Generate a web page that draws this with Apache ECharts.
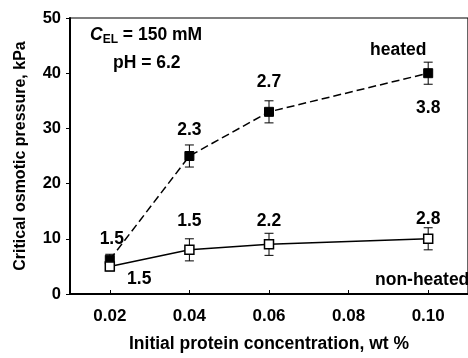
<!DOCTYPE html>
<html>
<head>
<meta charset="utf-8">
<script src="https://cdn.jsdelivr.net/npm/echarts@6/dist/echarts.min.js"></script>
<style>
  html, body { margin: 0; padding: 0; background: #fff; }
  #main { width: 468px; height: 358px; }
</style>
</head>
<body>
<div id="main"></div>
<script>
// protein concentration, wt %
var concentration = [0.02, 0.04, 0.06, 0.10];
var xTicks = [0.02, 0.04, 0.06, 0.08, 0.10];

// critical osmotic pressure, kPa
var heated = [6.2, 25, 33, 40];
var heatedErr = [1, 2, 2, 2];
var heatedRatio = ['1.5', '2.3', '2.7', '3.8'];

var nonHeated = [5, 8, 9, 10];
var nonHeatedErr = [0.8, 2, 2, 2];
var nonHeatedRatio = ['1.5', '1.5', '2.2', '2.8'];

var font = 'Liberation Sans, Arial, sans-serif';

function points(vals, ratios) {
  return vals.map(function (v, i) {
    return { value: [concentration[i], v], ratio: ratios[i] };
  });
}
function errRows(vals, errs) {
  return vals.map(function (v, i) {
    return [concentration[i], v - errs[i], v + errs[i]];
  });
}

// error bars with caps
function errorBar(params, api) {
  var lo = api.coord([api.value(0), api.value(1)]);
  var hi = api.coord([api.value(0), api.value(2)]);
  var w = 4.5;
  var st = { stroke: '#000', lineWidth: 1 };
  return {
    type: 'group',
    children: [
      { type: 'line', shape: { x1: lo[0], y1: lo[1], x2: hi[0], y2: hi[1] }, style: st },
      { type: 'line', shape: { x1: lo[0] - w, y1: lo[1], x2: lo[0] + w, y2: lo[1] }, style: st },
      { type: 'line', shape: { x1: hi[0] - w, y1: hi[1], x2: hi[0] + w, y2: hi[1] }, style: st }
    ]
  };
}

var labelBase = {
  show: true,
  fontFamily: font,
  fontWeight: 'bold',
  fontSize: 17.5,
  color: '#000',
  formatter: function (p) { return p.data.ratio; }
};

var hData = points(heated, heatedRatio);
hData[0].label = { position: 'top', distance: 7, offset: [2, 0] };
hData[1].label = { position: 'top', distance: 12 };
hData[2].label = { position: 'top', distance: 16 };
hData[3].label = { position: 'bottom', distance: 21 };

var nData = points(nonHeated, nonHeatedRatio);
nData[0].label = { position: 'right', distance: 6, offset: [6, 13] };
nData[1].label = { position: 'top', distance: 14 };
nData[2].label = { position: 'top', distance: 9 };
nData[3].label = { position: 'top', distance: 5 };

var chart = echarts.init(document.getElementById('main'), null, { renderer: 'canvas' });
chart.setOption({
  animation: false,
  grid: { left: 70, top: 18, width: 400, height: 281, show: true, borderColor: '#000', borderWidth: 1.2, backgroundColor: 'transparent' },
  xAxis: {
    type: 'value',
    min: 0.01,
    max: 0.11,
    name: 'Initial protein concentration, wt %',
    nameLocation: 'middle',
    nameGap: 41,
    nameTextStyle: { fontFamily: font, fontWeight: 'bold', fontSize: 17.5, color: '#000' },
    axisLine: { lineStyle: { color: '#000', width: 2 } },
    axisTick: { inside: true, length: 4, customValues: xTicks, lineStyle: { color: '#000' } },
    axisLabel: {
      customValues: xTicks,
      margin: 14,
      fontFamily: font, fontWeight: 'bold', fontSize: 17, color: '#000',
      formatter: function (v) { return v.toFixed(2); }
    },
    splitLine: { show: false }
  },
  yAxis: {
    type: 'value',
    min: 0,
    max: 50,
    interval: 10,
    name: 'Critical osmotic pressure, kPa',
    nameLocation: 'middle',
    nameGap: 41,
    nameTextStyle: { fontFamily: font, fontWeight: 'bold', fontSize: 16, color: '#000' },
    axisLine: { show: true, lineStyle: { color: '#000', width: 2 } },
    axisTick: { show: true, length: 4, lineStyle: { color: '#000' } },
    axisLabel: { margin: 9, fontFamily: font, fontWeight: 'bold', fontSize: 16.5, color: '#000' },
    splitLine: { show: false }
  },
  series: [
    {
      type: 'custom',
      renderItem: errorBar,
      data: errRows(heated, heatedErr),
      z: 1
    },
    {
      type: 'custom',
      renderItem: errorBar,
      data: errRows(nonHeated, nonHeatedErr),
      z: 1
    },
    {
      name: 'heated',
      type: 'line',
      data: hData,
      symbol: 'rect',
      symbolSize: 9,
      lineStyle: { color: '#000', width: 1.5, type: [8, 4] },
      itemStyle: { color: '#000', borderColor: '#000', borderWidth: 1 },
      label: labelBase,
      z: 3
    },
    {
      name: 'non-heated',
      type: 'line',
      data: nData,
      symbol: 'rect',
      symbolSize: 9,
      lineStyle: { color: '#000', width: 1.5 },
      itemStyle: { color: '#fff', borderColor: '#000', borderWidth: 1.5 },
      label: labelBase,
      z: 4
    }
  ],
  graphic: [
    {
      type: 'text', left: 90, top: 26,
      style: {
        text: '{c|C}{s|EL}{n| = 150 mM}',
        rich: {
          c: { fontFamily: font, fontWeight: 'bold', fontStyle: 'italic', fontSize: 17.5, fill: '#000' },
          s: { fontFamily: font, fontWeight: 'bold', fontSize: 12, fill: '#000', verticalAlign: 'bottom', padding: [10, 0, 0, 0] },
          n: { fontFamily: font, fontWeight: 'bold', fontSize: 17.5, fill: '#000' }
        }
      }
    },
    {
      type: 'text', left: 113, top: 54,
      style: { text: 'pH = 6.2', font: 'bold 17.5px ' + font, fill: '#000' }
    },
    {
      type: 'text', left: 370, top: 41,
      style: { text: 'heated', font: 'bold 17.5px ' + font, fill: '#000' }
    },
    {
      type: 'text', left: 375, top: 271,
      style: { text: 'non-heated', font: 'bold 17.5px ' + font, fill: '#000' }
    }
  ]
});
</script>
</body>
</html>
